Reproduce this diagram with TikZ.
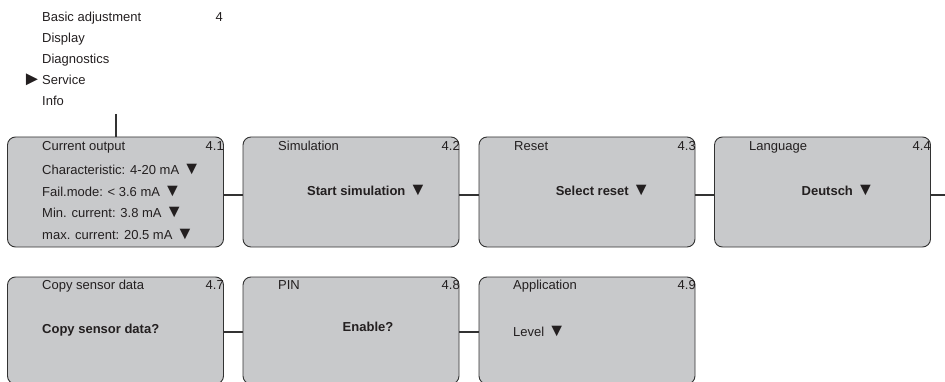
\documentclass[tikz,border=0pt]{standalone}
\usepackage{fontspec}
\setmainfont{Liberation Sans}
\definecolor{panel}{RGB}{200,201,203}
\definecolor{rim}{RGB}{50,50,50}
\definecolor{ink}{RGB}{35,31,32}
\newcommand{\dn}{{\fontsize{18pt}{15pt}\selectfont ▼}}
\tikzset{
  screen/.style={draw=rim,fill=panel,rounded corners=8pt,line width=0.9pt,
    minimum width=216pt,inner sep=0pt},
  entry/.style={anchor=west,inner sep=0pt,text=ink,text height=9.4pt,text depth=2.8pt,
    font=\fontsize{13pt}{15pt}\selectfont},
  num/.style={entry,anchor=east},
  choice/.style={entry,anchor=center,font=\fontsize{13pt}{15pt}\selectfont\bfseries},
  link/.style={line width=2pt,draw=rim}
}

\begin{document}
\begin{tikzpicture}[x=1pt,y=-1pt]
   \useasboundingbox (0,0) rectangle (945,382);

   % main menu
   \node[entry] (basic) at (42,18) {Basic adjustment};
   \node[num] (basicnum) at (223,18) {4};
   \node[entry] (display) at (42,39.5) {Display};
   \node[entry] (diag) at (42,60.5) {Diagnostics};
   \node[entry] (service) at (42,81.5) {Service};
   \node[num,font=\fontsize{20pt}{15pt}\selectfont] (pointer) at (42,82) {►};
   \node[entry] (info) at (42,102.5) {Info};
   \coordinate (drop) at (116,114);

   % first row
   \node[screen,minimum height=110pt] (b1) at (115.5,192) {};
   \node[screen,minimum height=110pt] (b2) at (351,192) {};
   \node[screen,minimum height=110pt] (b3) at (587,192) {};
   \node[screen,minimum height=110pt] (b4) at (822.5,192) {};
   \coordinate (out) at (945,195);

   \node[entry] (t1) at (42,147) {Current output};
   \node[num] (n1) at (224,147) {4.1};
   \node[entry] (l1) at (42,171.5) {Characteristic: 4-20 mA \dn};
   \node[entry] (l2) at (42,193) {Fail.mode: < 3.6 mA \dn};
   \node[entry] (l3) at (42,214.5) {Min. current: 3.8 mA \dn};
   \node[entry] (l4) at (42,236) {max. current: 20.5 mA \dn};

   \node[entry] (t2) at (278,147.5) {Simulation};
   \node[num] (n2) at (460,147.5) {4.2};
   \node[choice] (c2) at (367,192.5) {Start simulation \dn};

   \node[entry] (t3) at (514,147.5) {Reset};
   \node[num] (n3) at (696,147.5) {4.3};
   \node[choice] (c3) at (603,192.5) {Select reset \dn};

   \node[entry] (t4) at (749,147.5) {Language};
   \node[num] (n4) at (931,147.5) {4.4};
   \node[choice] (c4) at (838,192.5) {Deutsch \dn};

   % second row
   \node[screen,minimum height=107pt] (b7) at (115.5,330.5) {};
   \node[screen,minimum height=107pt] (b8) at (351,330.5) {};
   \node[screen,minimum height=107pt] (b9) at (587,330.5) {};

   \node[entry] (t7) at (42,286.5) {Copy sensor data};
   \node[num] (n7) at (224,286.5) {4.7};
   \node[choice,anchor=west] (c7) at (42,330) {Copy sensor data?};

   \node[entry] (t8) at (278,286.5) {PIN};
   \node[num] (n8) at (460,286.5) {4.8};
   \node[choice] (c8) at (368,328.5) {Enable?};

   \node[entry] (t9) at (513,286.5) {Application};
   \node[num] (n9) at (696,286.5) {4.9};
   \node[entry] (c9) at (513,333.5) {Level \dn};

   % connectors
   \draw[link] (drop) -- (drop |- b1.north);
   \draw[link] ([yshift=-3pt]b1.east) -- ([yshift=-3pt]b2.west);
   \draw[link] ([yshift=-3pt]b2.east) -- ([yshift=-3pt]b3.west);
   \draw[link] ([yshift=-3pt]b3.east) -- ([yshift=-3pt]b4.west);
   \draw[link] ([yshift=-3pt]b4.east) -- (out);
   \draw[link] ([yshift=-1.5pt]b7.east) -- ([yshift=-1.5pt]b8.west);
   \draw[link] ([yshift=-1.5pt]b8.east) -- ([yshift=-1.5pt]b9.west);
  \end{tikzpicture}
\end{document}
